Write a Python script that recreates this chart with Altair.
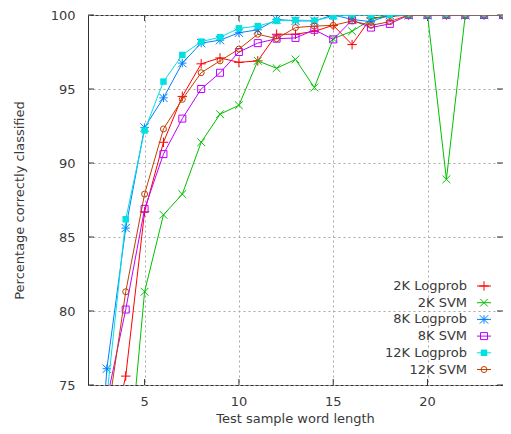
import altair as alt
import pandas as pd

# ---- data ----
word_length = list(range(2, 25))
series_names = ["2K Logprob", "2K SVM", "8K Logprob", "8K SVM", "12K Logprob", "12K SVM"]

logprob_2k = [55, 70.0, 75.6, 86.7, 91.4, 94.5, 96.7, 97.1, 96.8, 96.9, 98.7, 98.7, 98.9,
              99.3, 98.0, 99.8, 99.9, 100, 100, 100, 100, 100, 100]
svm_2k = [55, 60, 67.4, 81.3, 86.5, 87.9, 91.4, 93.3, 93.9, 96.9, 96.4, 97.0, 95.1,
          98.4, 98.9, 99.7, 100, 100, 100, 88.9, 100, 100, 100]
logprob_8k = [58, 76.1, 85.6, 92.4, 94.4, 96.75, 98.1, 98.3, 98.8, 99.0, 99.7, 99.6, 99.6,
              100, 99.7, 99.55, 100, 100, 100, 100, 100, 100, 100]
svm_8k = [60, 74.0, 80.1, 86.9, 90.6, 93.0, 95.0, 96.1, 97.5, 98.1, 98.4, 98.45, 99.0,
          98.35, 99.65, 99.15, 99.4, 100, 100, 100, 100, 100, 100]
logprob_12k = [60, 74.2, 86.2, 92.2, 95.5, 97.3, 98.2, 98.5, 99.1, 99.25, 99.6, 99.66, 99.62,
               99.9, 100, 100, 100, 100, 100, 100, 100, 100, 100]
svm_12k = [60, 72.6, 81.3, 87.9, 92.3, 94.3, 96.1, 96.9, 97.7, 98.7, 98.4, 99.15, 99.25,
           99.3, 99.6, 99.3, 99.55, 100, 100, 100, 100, 100, 100]

all_series = [logprob_2k, svm_2k, logprob_8k, svm_8k, logprob_12k, svm_12k]

x_ticks = [5, 10, 15, 20]
y_ticks = [75, 80, 85, 90, 95, 100]
x_title = "Test sample word length"
y_title = "Percentage correctly classified"

# ---- styles ----
colors = ["#ff0000", "#00c000", "#0080ff", "#c000ff", "#00e0e0", "#c04000"]
PLUS = "M-1,0L1,0M0,-1L0,1"
CROSS = "M-1,-1L1,1M-1,1L1,-1"
STAR = PLUS + CROSS
shapes = [PLUS, CROSS, STAR, "square", "square", "circle"]
filled = [False, False, False, False, True, False]
sizes = [90, 60, 70, 49, 42, 36]

W, H = 415, 370
TEXT = "#3a3a3a"

xscale = alt.Scale(domain=[2, 24], nice=False, zero=False)
yscale = alt.Scale(domain=[75, 100], nice=False, zero=False)

layers = []

# grid + y axis (x labels and title drawn as text marks below)
base_df = pd.DataFrame({"x": word_length, "y": logprob_2k})
axes = alt.Chart(base_df).mark_point(opacity=0).encode(
    x=alt.X("x:Q", scale=xscale,
            axis=alt.Axis(values=x_ticks, title=None, grid=True, labels=False,
                          gridDash=[2, 3], gridColor="#a8a8a8", ticks=False, domain=False)),
    y=alt.Y("y:Q", scale=yscale,
            axis=alt.Axis(values=y_ticks, title=y_title, grid=True,
                          gridDash=[2, 3], gridColor="#a8a8a8", ticks=False, domain=False,
                          labelPadding=13, labelFontSize=13, labelColor=TEXT,
                          titleFontSize=13, titleColor=TEXT, titleFontWeight="normal",
                          titlePadding=24)),
)
layers.append(axes)

xt = pd.DataFrame({"t": x_ticks})
yt = pd.DataFrame({"t": y_ticks})

# x tick labels and title
layers.append(alt.Chart(xt).mark_text(fontSize=13, color=TEXT, baseline="alphabetic",
                                      align="center").encode(
    x=alt.X("t:Q", scale=xscale), y=alt.value(H + 21), text=alt.Text("t:Q")))
layers.append(alt.Chart(pd.DataFrame({"a": [0]})).mark_text(
    fontSize=13, color=TEXT, baseline="alphabetic", align="center").encode(
    x=alt.value(W / 2), y=alt.value(H + 38), text=alt.value(x_title)))

# inward ticks (mirrored)
tick_color = "#303030"
layers.append(alt.Chart(xt).mark_rule(color=tick_color).encode(
    x=alt.X("t:Q", scale=xscale), y=alt.value(H), y2=alt.value(H - 6)))
layers.append(alt.Chart(xt).mark_rule(color=tick_color).encode(
    x=alt.X("t:Q", scale=xscale), y=alt.value(0), y2=alt.value(6)))
layers.append(alt.Chart(yt).mark_rule(color=tick_color).encode(
    y=alt.Y("t:Q", scale=yscale), x=alt.value(0), x2=alt.value(6)))
layers.append(alt.Chart(yt).mark_rule(color=tick_color).encode(
    y=alt.Y("t:Q", scale=yscale), x=alt.value(W), x2=alt.value(W - 6)))

# series
for i, (name, vals) in enumerate(zip(series_names, all_series)):
    df = pd.DataFrame({"x": word_length, "y": vals, "series": name})
    line = alt.Chart(df).mark_line(color=colors[i], strokeWidth=1, clip=True).encode(
        x=alt.X("x:Q", scale=xscale), y=alt.Y("y:Q", scale=yscale))
    pts = alt.Chart(df).mark_point(color=colors[i], shape=shapes[i], filled=filled[i],
                                   size=sizes[i], strokeWidth=1, opacity=1, clip=True).encode(
        x=alt.X("x:Q", scale=xscale), y=alt.Y("y:Q", scale=yscale))
    layers += [line, pts]

# manual legend (gnuplot style: label right-aligned, sample to the right)
one = pd.DataFrame({"a": [0]})
for i, name in enumerate(series_names):
    yy = 271 + 16.7 * i
    layers.append(alt.Chart(one).mark_text(align="right", baseline="middle", fontSize=13,
                                           color=TEXT).encode(
        x=alt.value(379), y=alt.value(yy), text=alt.value(name)))
    layers.append(alt.Chart(one).mark_rule(color=colors[i], strokeWidth=1).encode(
        x=alt.value(389), x2=alt.value(403), y=alt.value(yy)))
    layers.append(alt.Chart(one).mark_point(color=colors[i], shape=shapes[i], filled=filled[i],
                                            size=sizes[i], strokeWidth=1, opacity=1).encode(
        x=alt.value(396), y=alt.value(yy)))

chart = alt.layer(*layers).properties(
    width=W, height=H,
    autosize=alt.AutoSizeParams(type="none"),
    padding={"left": 80, "top": 7, "right": 0, "bottom": 41},
).configure(font="DejaVu Sans").configure_view(stroke="#303030", strokeWidth=1)

chart.save("out.html", embed_options={"renderer": "svg", "actions": False})
